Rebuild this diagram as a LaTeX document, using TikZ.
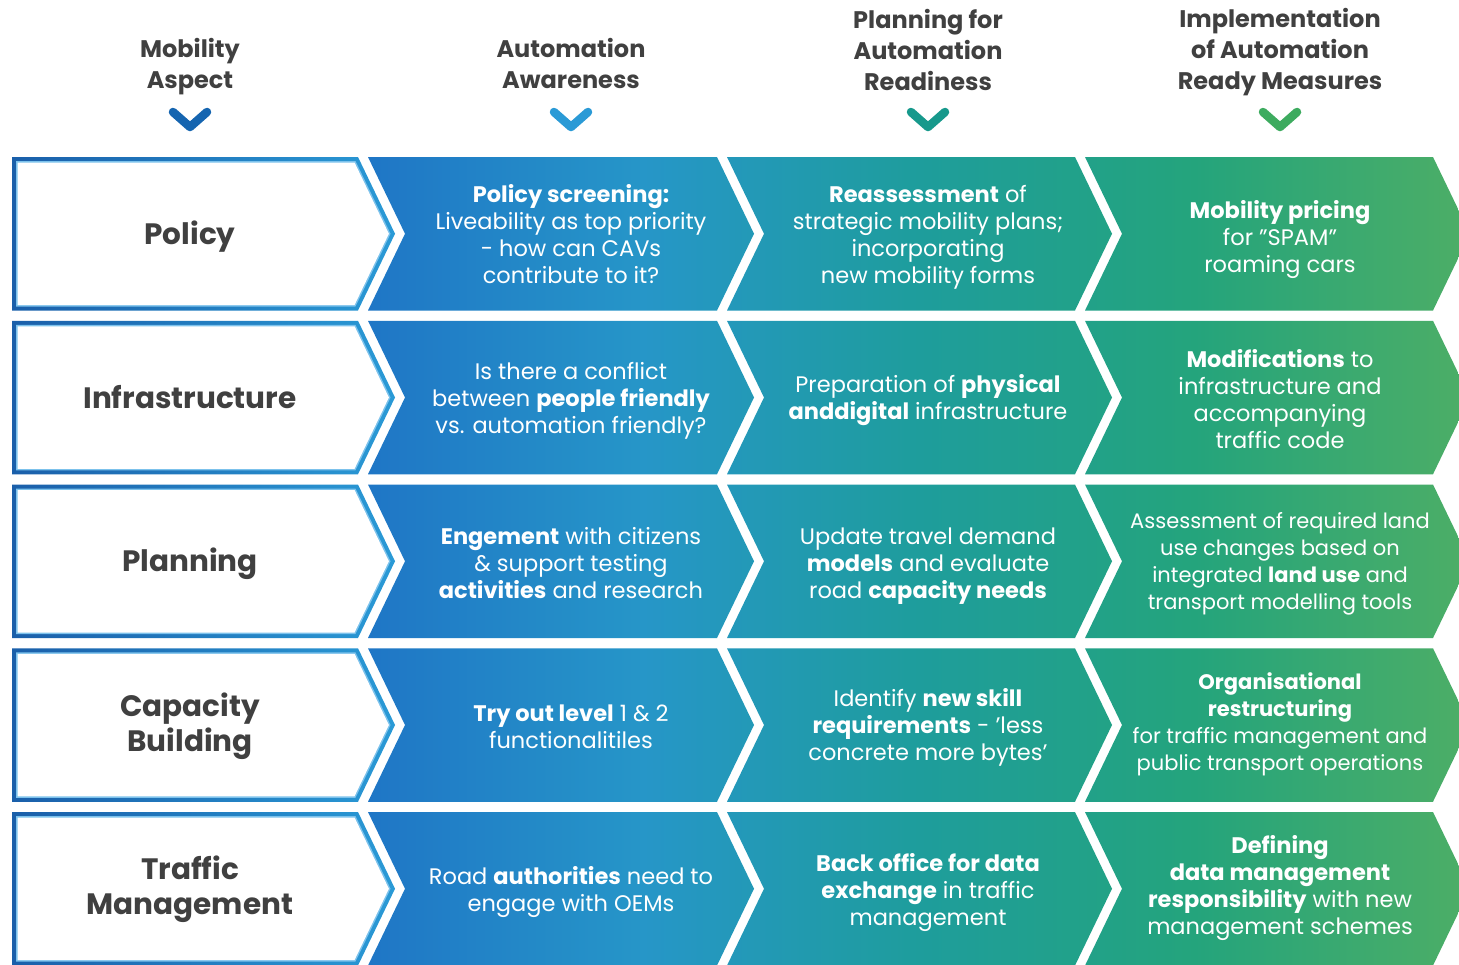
\documentclass[tikz,border=0pt]{standalone}
\usepackage{fontspec}
\setmainfont{Poppins}
\definecolor{gA}{HTML}{1F76C6}
\definecolor{gB}{HTML}{2696C8}
\definecolor{gC}{HTML}{1E9D9C}
\definecolor{gD}{HTML}{24A47C}
\definecolor{gE}{HTML}{4DAE66}
\definecolor{bdark}{HTML}{1A5FAA}
\definecolor{blight}{HTML}{2A9AD6}
\definecolor{binner}{HTML}{7CC2EC}
\definecolor{headtext}{HTML}{404040}
\definecolor{arA}{HTML}{1565B0}
\definecolor{arB}{HTML}{2A9AD6}
\definecolor{arC}{HTML}{17998C}
\definecolor{arD}{HTML}{3DAB5F}
\pgfdeclarehorizontalshading{flow}{100bp}{color(0bp)=(gA); color(25bp)=(gA); color(37.5bp)=(gB); color(50bp)=(gC); color(62.5bp)=(gD); color(75bp)=(gE); color(100bp)=(gE)}
\tikzset{
  headtxt/.style={align=center, text=headtext, font=\fontsize{24}{31}\selectfont\bfseries, inner sep=0pt},
  labeltxt/.style={align=center, text=headtext, font=\fontsize{29.5}{35}\selectfont\bfseries, inner sep=0pt},
  bodytxt/.style={align=center, text=white, font=\fontsize{22.5}{27}\selectfont, inner sep=0pt},
  vmark/.style={line width=8.5pt, line cap=round, line join=round}
}
\newcommand\colonepath[2]{({12+#2},{#1+#2}) -- ({358-0.628*#2},{#1+#2}) -- ({395-1.11*#2},{#1+76.75}) -- ({358-0.628*#2},{#1+153.5-#2}) -- ({12+#2},{#1+153.5-#2}) -- cycle}
\begin{document}
\begin{tikzpicture}[x=1pt,y=-1pt]
\useasboundingbox (0,0) rectangle (1459,964);
\clip (0,0) rectangle (1459,964);
\fill[white] (0,0) rectangle (1459,964);
% coloured chevrons
\shade[shading=flow]
  \foreach \t in {157,320.75,484.5,648.25,812} {
    \foreach \L/\R in {368/717,727/1075,1085/1433} {
      (\L,\t) -- (\R,\t) -- ({\R+37},{\t+76.75}) -- (\R,{\t+153.5}) -- (\L,{\t+153.5}) -- ({\L+37},{\t+76.75}) -- cycle
    }
  };
% first column boxes
\foreach \t in {157,320.75,484.5,648.25,812} {
  \shade[left color=bdark, right color=blight] \colonepath{\t}{0};
  \fill[binner] \colonepath{\t}{4};
  \fill[white] \colonepath{\t}{5.5};
}
% header arrows
\draw[vmark, arA] (173,112) -- (190,127) -- (207,112);
\draw[vmark, arB] (554,112) -- (571,127) -- (588,112);
\draw[vmark, arC] (911,112) -- (928,127) -- (945,112);
\draw[vmark, arD] (1263,112) -- (1280,127) -- (1297,112);
% headers
\node[headtxt] (h1) at (190,67) {Mobility\\Aspect};
\node[headtxt] (h2) at (571,63) {Automation\\Awareness};
\node[headtxt] (h3) at (928,49.5) {Planning for\\Automation\\Readiness};
\node[headtxt] (h4) at (1280,52.5) {Implementation\\of Automation\\Ready Measures};
% row labels
\node[labeltxt] (l1) at (190,237) {Policy};
\node[labeltxt] (l2) at (190,397.5) {Infrastructure};
\node[labeltxt] (l3) at (190,564) {Planning};
\node[labeltxt] (l4) at (190,726.5) {Capacity\\Building};
\node[labeltxt] (l5) at (190,889.5) {Traffic\\Management};
% row 1
\node[bodytxt] (t12) at (571,234.5) {\textbf{Policy screening:}\\Liveability as top priority\\- how can CAVs\\contribute to it?};
\node[bodytxt] (t13) at (928,237.5) {\textbf{Reassessment} of\\strategic mobility plans;\\incorporating\\new mobility forms};
\node[bodytxt] (t14) at (1280,240) {\textbf{Mobility pricing}\\for \symbol{34}SPAM\symbol{34}\\roaming cars};
% row 2
\node[bodytxt] (t22) at (571,400.5) {Is there a conflict\\between \textbf{people friendly}\\vs. automation friendly?};
\node[bodytxt] (t23) at (928,400.5) {Preparation of \textbf{physical}\\\textbf{anddigital} infrastructure};
\node[bodytxt] (t24) at (1280,399.5) {\textbf{Modifications} to\\infrastructure and\\accompanying\\traffic code};
% row 3
\node[bodytxt] (t32) at (571,563) {\textbf{Engement} with citizens\\\& support testing\\\textbf{activities} and research};
\node[bodytxt] (t33) at (928,566) {Update travel demand\\\textbf{models} and evaluate\\road \textbf{capacity needs}};
\node[bodytxt, font=\fontsize{21}{27}\selectfont] (t34) at (1280,563.5) {Assessment of required land\\use changes based on\\integrated \textbf{land use} and\\transport modelling tools};
% row 4
\node[bodytxt] (t42) at (571,726.5) {\textbf{Try out level} 1 \& 2\\functionalitiles};
\node[bodytxt] (t43) at (928,727.5) {Identify \textbf{new skill}\\\textbf{requirements} - 'less\\concrete more bytes'};
\node[bodytxt, font=\fontsize{21}{27}\selectfont] (t44) at (1280,724.5) {\textbf{Organisational}\\\textbf{restructuring}\\for traffic management and\\public transport operations};
% row 5
\node[bodytxt] (t52) at (571,892.5) {Road \textbf{authorities} need to\\engage with OEMs};
\node[bodytxt] (t53) at (928,893) {\textbf{Back office for data}\\\textbf{exchange} in traffic\\management};
\node[bodytxt] (t54) at (1280,888.5) {\textbf{Defining}\\\textbf{data management}\\\textbf{responsibility} with new\\management schemes};
\end{tikzpicture}
\end{document}
